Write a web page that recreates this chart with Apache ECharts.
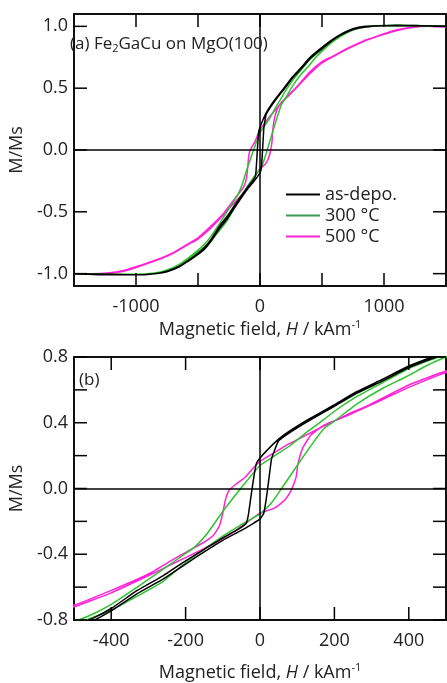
<!DOCTYPE html>
<html>
<head>
<meta charset="utf-8">
<script src="https://cdn.jsdelivr.net/npm/echarts@6/dist/echarts.min.js"></script>
<style>
  html, body { margin: 0; padding: 0; background: #fff; }
  #chart { width: 447px; height: 683px; }
</style>
</head>
<body>
<div id="chart"></div>
<script>
// hysteresis loops, [H (kA/m), M/Ms], field sweep down then back up
var asDepoDown = [[1500, 1.0], [1300, 1.005], [1100, 1.01], [950, 1.005], [850, 1.0], [750, 0.98], [650, 0.935], [580, 0.89], [500, 0.83], [450, 0.79], [400, 0.745], [330, 0.665], [261, 0.59], [200, 0.51], [130, 0.42], [80, 0.35], [50, 0.3], [20, 0.235], [0, 0.185], [-10, 0.15], [-18, 0.05], [-25, -0.06], [-32, -0.17], [-38, -0.215], [-60, -0.25], [-100, -0.3], [-150, -0.37], [-200, -0.44], [-260, -0.53], [-330, -0.62], [-400, -0.73], [-450, -0.79], [-500, -0.835], [-580, -0.895], [-650, -0.94], [-750, -0.98], [-850, -1.0], [-1000, -1.01], [-1200, -1.005], [-1500, -1.0]];
var asDepoUp = [[-1500, -1.0], [-1200, -1.01], [-1000, -1.01], [-850, -1.0], [-750, -0.985], [-650, -0.945], [-580, -0.9], [-500, -0.845], [-450, -0.805], [-400, -0.745], [-330, -0.64], [-260, -0.55], [-200, -0.46], [-150, -0.385], [-100, -0.315], [-50, -0.255], [-20, -0.215], [0, -0.185], [10, -0.15], [17, -0.06], [24, 0.06], [31, 0.18], [38, 0.225], [50, 0.29], [80, 0.34], [130, 0.41], [200, 0.5], [261, 0.58], [330, 0.655], [400, 0.735], [450, 0.78], [500, 0.82], [580, 0.885], [650, 0.93], [750, 0.975], [850, 0.995], [1000, 1.005], [1200, 1.005], [1500, 1.0]];

var t300Down = [[1500, 1.0], [1300, 1.005], [1100, 1.01], [950, 1.005], [850, 0.995], [750, 0.975], [650, 0.93], [580, 0.885], [500, 0.815], [450, 0.775], [400, 0.73], [330, 0.645], [261, 0.56], [200, 0.47], [172, 0.42], [130, 0.35], [80, 0.26], [40, 0.2], [0, 0.14], [-52, 0.0], [-100, -0.14], [-144, -0.28], [-175, -0.355], [-200, -0.395], [-260, -0.49], [-330, -0.6], [-400, -0.705], [-450, -0.765], [-500, -0.81], [-580, -0.875], [-650, -0.925], [-750, -0.97], [-850, -0.995], [-1000, -1.005], [-1200, -1.005], [-1500, -1.0]];
var t300Up = [[-1500, -1.0], [-1200, -1.005], [-1000, -1.005], [-850, -0.995], [-750, -0.975], [-650, -0.935], [-580, -0.89], [-500, -0.825], [-450, -0.785], [-400, -0.74], [-330, -0.655], [-260, -0.565], [-200, -0.45], [-150, -0.37], [-100, -0.29], [-50, -0.22], [0, -0.155], [30, -0.09], [58, 0.0], [100, 0.14], [140, 0.27], [172, 0.365], [200, 0.41], [261, 0.515], [330, 0.61], [393, 0.68], [450, 0.75], [500, 0.8], [580, 0.87], [650, 0.92], [750, 0.97], [850, 0.995], [1000, 1.005], [1200, 1.005], [1500, 1.0]];

var t500Down = [[1500, 0.995], [1350, 1.0], [1230, 0.995], [1100, 0.97], [1000, 0.94], [900, 0.905], [840, 0.885], [700, 0.82], [580, 0.755], [500, 0.715], [400, 0.63], [295, 0.51], [230, 0.445], [163, 0.37], [120, 0.32], [75, 0.268], [40, 0.22], [0, 0.165], [-20, 0.12], [-39, 0.07], [-65, 0.026], [-83, -0.01], [-93, -0.069], [-100, -0.148], [-109, -0.227], [-126, -0.286], [-153, -0.33], [-197, -0.385], [-232, -0.43], [-300, -0.52], [-400, -0.62], [-500, -0.71], [-580, -0.76], [-700, -0.83], [-840, -0.89], [-1000, -0.945], [-1100, -0.975], [-1230, -0.995], [-1350, -1.0], [-1500, -1.0]];
var t500Up = [[-1500, -1.0], [-1350, -1.0], [-1230, -1.0], [-1100, -0.98], [-1000, -0.95], [-840, -0.895], [-700, -0.835], [-580, -0.765], [-500, -0.72], [-400, -0.635], [-295, -0.525], [-232, -0.455], [-163, -0.38], [-120, -0.33], [-75, -0.27], [-40, -0.215], [0, -0.15], [40, -0.118], [67, -0.069], [84, -0.01], [97, 0.069], [102, 0.148], [115, 0.247], [137, 0.326], [172, 0.385], [232, 0.44], [300, 0.51], [400, 0.615], [500, 0.705], [580, 0.75], [700, 0.815], [840, 0.88], [1000, 0.935], [1100, 0.965], [1230, 0.99], [1350, 1.0], [1500, 0.995]];

var seriesNames = ['as-depo.', '300 °C', '500 °C'];
var seriesColors = ['#000000', '#2fc22f', '#ff22d6'];
var legendColors = ['#000000', '#3a9a52', '#ff22d6'];
var loops = [asDepoDown.concat(asDepoUp), t300Down.concat(t300Up), t500Down.concat(t500Up)];

// axis ranges and tick positions
var xRangeA = [-1500, 1500];
var yRangeA = [-1.1, 1.1];
var xTicksA = [-1000, -500, 0, 500, 1000];
var xLabelsA = [-1000, 0, 1000];
var yTicksA = [-1, -0.5, 0, 0.5, 1];
var xRangeB = [-500, 500];
var yRangeB = [-0.8, 0.8];
var xTicksB = [-400, -200, 0, 200, 400];
var yTicksB = [-0.8, -0.6, -0.4, -0.2, 0, 0.2, 0.4, 0.6, 0.8];
var yLabelsB = [-0.8, -0.4, 0, 0.4, 0.8];

var chart = echarts.init(document.getElementById('chart'));
var font = 'Open Sans';
var tickLen = 13;

function xAxis(grid, range, labels, pos, nameGap) {
    return {
        type: 'value', gridIndex: grid, min: range[0], max: range[1], position: pos,
        axisLine: { show: true, onZero: false, lineStyle: { color: '#111', width: 2 } },
        splitLine: { show: false },
        axisTick: { show: false },
        axisLabel: {
            show: pos === 'bottom', customValues: labels, margin: 8, padding: [4, 0, 0, 0],
            color: '#222', fontSize: 18, fontFamily: font,
            formatter: function (v) { return String(v); }
        },
        name: pos === 'bottom' ? '{n|Magnetic field, }{i|H}{n| / kAm}{s|-1}' : '',
        nameLocation: 'middle', nameGap: nameGap,
        nameTextStyle: {
            rich: {
                n: { fontSize: 18, fontFamily: font, color: '#222' },
                i: { fontSize: 18, fontFamily: font, color: '#222', fontStyle: 'italic' },
                s: { fontSize: 11, fontFamily: font, color: '#222', verticalAlign: 'top', lineHeight: 22 }
            }
        }
    };
}
function yAxis(grid, range, labels, pos) {
    return {
        type: 'value', gridIndex: grid, min: range[0], max: range[1], position: pos,
        axisLine: { show: true, onZero: false, lineStyle: { color: '#111', width: 2 } },
        splitLine: { show: false },
        axisTick: { show: false },
        axisLabel: {
            show: pos === 'left', customValues: labels, margin: 6,
            color: '#222', fontSize: 18, fontFamily: font,
            formatter: function (v) { return v.toFixed(1); }
        },
        name: pos === 'left' ? 'M/Ms' : '',
        nameLocation: 'middle', nameGap: 42, nameRotate: 90,
        nameTextStyle: { fontSize: 18, fontFamily: font, color: '#222' }
    };
}

var zeroLines = {
    silent: true, symbol: 'none', label: { show: false },
    lineStyle: { color: '#000', width: 1.5, type: 'solid' },
    data: [{ xAxis: 0 }, { yAxis: 0 }]
};

// inward frame ticks on all four sides, placed through the axes' own scales
function tickSeries(g, xr, yr, xt, yt) {
    var data = [];
    xt.forEach(function (t) { data.push([t, 0]); data.push([t, 1]); });
    yt.forEach(function (t) { data.push([t, 2]); data.push([t, 3]); });
    return {
        type: 'custom', xAxisIndex: g * 2, yAxisIndex: g * 2, silent: true,
        clip: false, animation: false, z: 10,
        encode: { x: -1, y: -1 },
        data: data,
        renderItem: function (params, api) {
            var v = api.value(0), side = api.value(1), p, q;
            if (side === 0) { p = api.coord([v, yr[0]]); q = [p[0], p[1] - tickLen]; }
            else if (side === 1) { p = api.coord([v, yr[1]]); q = [p[0], p[1] + tickLen]; }
            else if (side === 2) { p = api.coord([xr[0], v]); q = [p[0] + tickLen, p[1]]; }
            else { p = api.coord([xr[1], v]); q = [p[0] - tickLen, p[1]]; }
            return {
                type: 'line',
                shape: { x1: p[0], y1: p[1], x2: q[0], y2: q[1] },
                style: { stroke: '#000', lineWidth: 1.5 }
            };
        }
    };
}

var series = [];
[0, 1].forEach(function (g) {
    loops.forEach(function (d, i) {
        series.push({
            name: seriesNames[i], type: 'line', xAxisIndex: g * 2, yAxisIndex: g * 2,
            data: d, symbol: 'none', smooth: 0.15, animation: false,
            lineStyle: { color: seriesColors[i], width: 1.5 },
            itemStyle: { color: seriesColors[i] },
            markLine: i === 0 ? zeroLines : undefined,
            z: 3 - i
        });
    });
});
series.push(tickSeries(0, xRangeA, yRangeA, xTicksA, yTicksA));
series.push(tickSeries(1, xRangeB, yRangeB, xTicksB, yTicksB));

chart.setOption({
    animation: false,
    title: [{
        text: '(a) Fe{sub|2}GaCu on MgO(100)', left: 65, top: 30,
        textStyle: {
            fontSize: 17, fontFamily: font, fontWeight: 'normal', color: '#222',
            rich: { sub: { fontSize: 11, fontFamily: font, color: '#222', verticalAlign: 'bottom', padding: [8, 0, 0, 0] } }
        }
    }, {
        text: '(b)', left: 74, top: 367,
        textStyle: { fontSize: 17, fontFamily: font, fontWeight: 'normal', color: '#222' }
    }],
    legend: {
        left: 281, top: 179, orient: 'vertical', itemWidth: 34, itemHeight: 2, itemGap: 0,
        icon: 'rect',
        textStyle: { fontSize: 18, lineHeight: 21, fontFamily: font, color: '#222' },
        data: seriesNames.map(function (n, i) {
            return { name: n, itemStyle: { color: legendColors[i] } };
        })
    },
    grid: [
        { left: 64, top: 14, width: 382, height: 272 },
        { left: 64, top: 357, width: 382, height: 270 }
    ],
    xAxis: [
        xAxis(0, xRangeA, xLabelsA, 'bottom', 33),
        xAxis(0, xRangeA, [], 'top', 0),
        xAxis(1, xRangeB, xTicksB, 'bottom', 42),
        xAxis(1, xRangeB, [], 'top', 0)
    ],
    yAxis: [
        yAxis(0, yRangeA, yTicksA, 'left'),
        yAxis(0, yRangeA, [], 'right'),
        yAxis(1, yRangeB, yLabelsB, 'left'),
        yAxis(1, yRangeB, [], 'right')
    ],
    series: series
});
</script>
</body>
</html>
